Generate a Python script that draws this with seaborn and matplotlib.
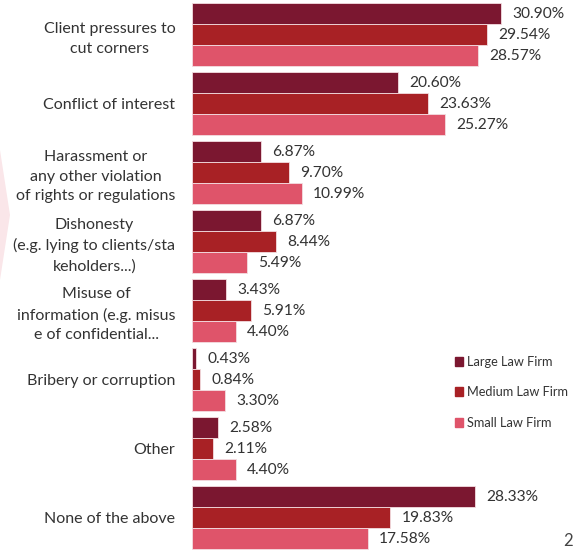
import matplotlib
matplotlib.use("Agg")
import matplotlib.pyplot as plt
import matplotlib.patches as mpatches
import seaborn as sns
import pandas as pd

categories = [
    "Client pressures to\ncut corners",
    "Conflict of interest",
    "Harassment or\nany other violation\nof rights or regulations",
    "Dishonesty\n(e.g. lying to clients/sta\nkeholders...)",
    "Misuse of\ninformation (e.g. misus\ne of confidential...",
    "Bribery or corruption",
    "Other",
    "None of the above",
]
firms = ["Large Law Firm", "Medium Law Firm", "Small Law Firm"]
large = [30.90, 20.60, 6.87, 6.87, 3.43, 0.43, 2.58, 28.33]
medium = [29.54, 23.63, 9.70, 8.44, 5.91, 0.84, 2.11, 19.83]
small = [28.57, 25.27, 10.99, 5.49, 4.40, 3.30, 4.40, 17.58]
colors = ["#7B1730", "#A82125", "#DF546A"]

rows = []
for firm, vals in zip(firms, [large, medium, small]):
    for cat, v in zip(categories, vals):
        rows.append({"category": cat, "firm": firm, "value": v})
df = pd.DataFrame(rows)

sns.set_theme(style="white")
plt.rcParams["font.family"] = ["Lato", "DejaVu Sans"]

fig = plt.figure(figsize=(5.76, 5.5), dpi=100)
ax = fig.add_axes([192 / 576, 0, 384 / 576, 1])

sns.barplot(
    data=df, y="category", x="value", hue="firm", orient="h",
    order=categories, hue_order=firms, palette=colors, saturation=1,
    width=0.913, edgecolor="#f3dde1", linewidth=0.6, ax=ax,
    legend=False, errorbar=None,
)

for cont in ax.containers:
    ax.bar_label(cont, labels=[f"{v:.2f}%" for v in cont.datavalues],
                 padding=8, fontsize=11.2, color="#333333")

ax.set_xlim(0, 38.4)
ax.set_ylim(7.47, -0.5)
ax.set_xlabel("")
ax.set_ylabel("")
ax.set_xticks([])
for s in ax.spines.values():
    s.set_visible(False)
ax.tick_params(axis="y", length=0, pad=12)
for lab in ax.get_yticklabels():
    lab.set_fontsize(11.5)
    lab.set_color("#333333")
    lab.set_multialignment("center")
    lab.set_linespacing(1.5)

handles = [mpatches.Patch(color=c, label=f) for c, f in zip(colors, firms)]
fig.legend(handles=handles, loc="upper left", bbox_to_anchor=(443 / 576, 1 - 344 / 550),
           frameon=False, fontsize=9.2, handlelength=0.7, handleheight=0.7,
           handletextpad=0.3, labelspacing=1.45, labelcolor="#333333")

# decorative arrow tip on the left margin
fig.patches.append(mpatches.Polygon(
    [(0, 1 - 150 / 550), (10 / 576, 1 - 215 / 550), (0, 1 - 280 / 550)],
    closed=True, transform=fig.transFigure, facecolor="#FAE6E9",
    edgecolor="none", zorder=0))

fig.text(563 / 576, 1 / 550, "2", fontsize=12, color="#444444",
         ha="left", va="bottom")

fig.savefig("out.png", dpi=100)
